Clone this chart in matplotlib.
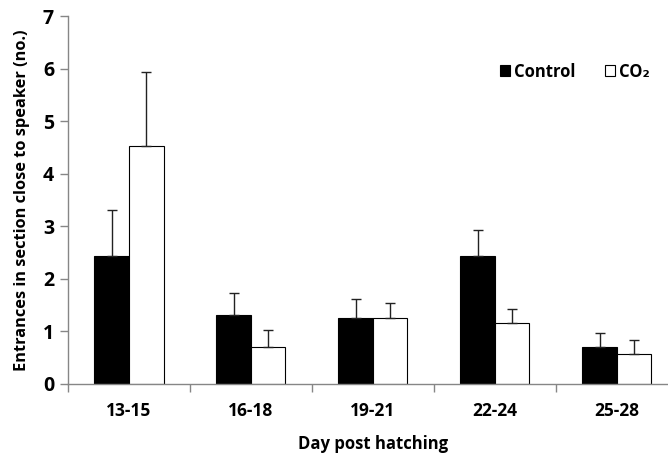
import matplotlib
matplotlib.use('Agg')
import matplotlib.pyplot as plt
import numpy as np

# Data
days = ['13-15', '16-18', '19-21', '22-24', '25-28']
control = [2.43, 1.31, 1.25, 2.43, 0.69]
control_err = [0.87, 0.42, 0.37, 0.49, 0.27]
co2 = [4.53, 0.69, 1.25, 1.15, 0.56]
co2_err = [1.41, 0.33, 0.29, 0.27, 0.27]

plt.rcParams['font.family'] = ['Open Sans', 'DejaVu Sans']
plt.rcParams['font.weight'] = 'bold'

fig = plt.figure(figsize=(6.68, 4.54), dpi=100)
ax = fig.add_axes([0.1018, 0.155, 0.913, 0.809])

x = np.arange(len(days))
w = 0.283

ax.bar(x - w / 2, control, width=w, color='black', edgecolor='black', linewidth=0.8, label='Control', zorder=2)
ax.bar(x + w / 2, co2, width=w, color='white', edgecolor='black', linewidth=0.8, label='CO\u2082', zorder=2)

zeros = np.zeros(len(days))
ax.errorbar(x - w / 2, control, yerr=[zeros, control_err], fmt='none', ecolor='#222222',
            elinewidth=1, capsize=3.5, capthick=1, zorder=3)
ax.errorbar(x + w / 2, co2, yerr=[zeros, co2_err], fmt='none', ecolor='#222222',
            elinewidth=1, capsize=3.5, capthick=1, zorder=3)

# Axes limits and ticks
ax.set_xlim(-0.5, len(days) - 0.5)
ax.set_ylim(0, 7)
ax.set_yticks(range(0, 8))
ax.set_xticks(x)
ax.set_xticklabels(days, fontsize=12.5, fontweight='bold')
ax.set_xticks(np.arange(-0.5, len(days), 1), minor=True)
ax.tick_params(axis='x', which='major', length=0, pad=13)
ax.tick_params(axis='x', which='minor', length=6, color='#868686', width=1)
ax.tick_params(axis='y', length=6, color='#868686', width=1, labelsize=14, pad=4)
for lbl in ax.get_yticklabels():
    lbl.set_fontweight('bold')

for side in ['top', 'right']:
    ax.spines[side].set_visible(False)
for side in ['left', 'bottom']:
    ax.spines[side].set_color('#868686')
    ax.spines[side].set_linewidth(1)

ax.set_xlabel('Day post hatching', fontsize=12, fontweight='bold', labelpad=11)
ax.set_ylabel('Entrances in section close to speaker (no.)', fontsize=11.8, fontweight='bold', labelpad=9)

ax.legend(loc='upper left', bbox_to_anchor=(0.683, 0.915), ncol=2, frameon=False,
          handlelength=0.6, handleheight=0.6, handletextpad=0.25, columnspacing=1.8,
          prop={'weight': 'bold', 'size': 12})

fig.savefig('out.png', dpi=100)
